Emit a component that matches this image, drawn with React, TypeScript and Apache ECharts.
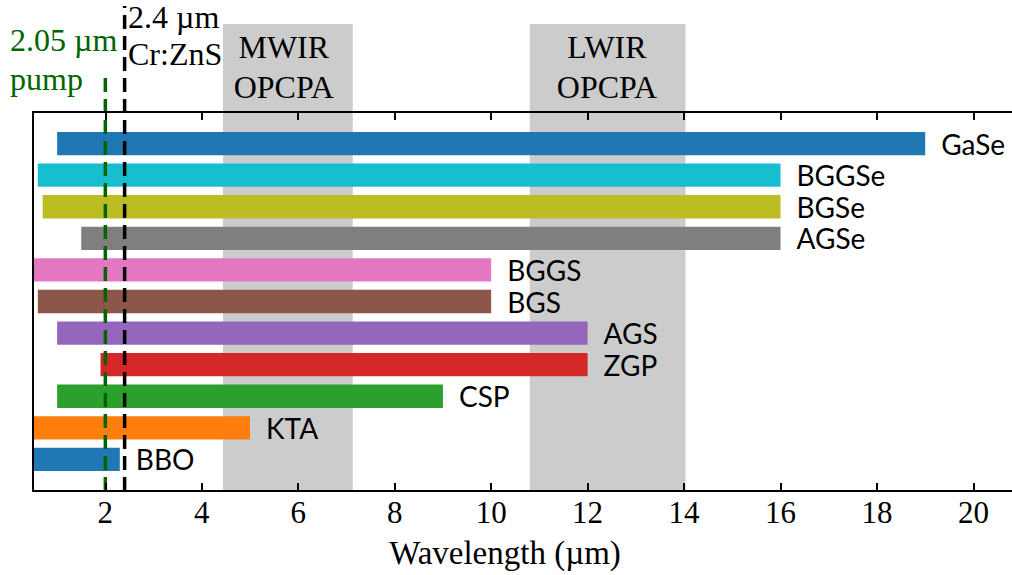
import React, { useEffect, useRef } from "react";
import * as echarts from "echarts";

// ---- data ----
const crystals = ["BBO", "KTA", "CSP", "ZGP", "AGS", "BGS", "BGGS", "AGSe", "BGSe", "BGGSe", "GaSe"];
const rangeStart = [0.5, 0.5, 1.0, 1.9, 1.0, 0.6, 0.5, 1.5, 0.7, 0.6, 1.0];
const rangeEnd = [2.3, 5.0, 9.0, 12.0, 12.0, 10.0, 10.0, 16.0, 16.0, 16.0, 19.0];
const barColors = ["#1f77b4", "#ff7f0e", "#2ca02c", "#d62728", "#9467bd", "#8c564b", "#e377c2", "#7f7f7f", "#bcbd22", "#17becf", "#1f77b4"];

const bandLines = [["MWIR", "OPCPA"], ["LWIR", "OPCPA"]];
const bandStart = [4.44, 10.8];
const bandEnd = [7.13, 14.03];
const bandLabelX = [5.7, 12.4];

const laserLines = [["2.05 µm", "pump"], ["2.4 µm", "Cr:ZnS"]];
const laserWavelength = [2.0, 2.4];
const laserColors = ["#006400", "#000000"];

const xTicks = [2, 4, 6, 8, 10, 12, 14, 16, 18, 20];

// ---- layout / style ----
const X_MIN = 0.5;
const X_MAX = 20.8;
const Y_MIN = -1;
const Y_MAX = 11;
const BAR_THICK = 0.74;
const SERIF = "'Liberation Serif', 'Times New Roman', serif";
const SANS = "Lato, 'DejaVu Sans', sans-serif";
const SHADE_TOP = 24;
const LASER_TOP = [73, 6];
const LASER_TEXT_X = [10, 128];
const LASER_TEXT_Y = [[40, 79], [16.5, 54]];

export default function App() {
  const ref = useRef<HTMLDivElement>(null);

  useEffect(() => {
    if (!ref.current) return;
    const chart = echarts.init(ref.current, undefined, { renderer: "svg" });

    const barData = crystals.map((_, i) => [rangeStart[i], rangeEnd[i], i]);
    const bandData = bandStart.map((s, i) => [s, bandEnd[i], i]);
    const laserData = laserWavelength.map((w, i) => [w, i]);

    const axisCommon = {
      type: "value" as const,
      min: X_MIN,
      max: X_MAX,
      z: 10,
      splitLine: { show: false },
      axisLine: { show: true, onZero: false, lineStyle: { color: "#000", width: 2 } },
      axisTick: { show: true, inside: true, length: 8, customValues: xTicks, lineStyle: { color: "#000", width: 2 } },
    };

    const option: any = {
      animation: false,
      backgroundColor: "#fff",
      grid: { left: 33, right: 0, top: 112, bottom: 84, containLabel: false },
      xAxis: [
        {
          ...axisCommon,
          position: "bottom",
          axisLabel: {
            show: true,
            customValues: xTicks,
            color: "#000",
            fontFamily: SERIF,
            fontSize: 31,
            margin: 6,
          },
        },
        {
          ...axisCommon,
          position: "top",
          axisLabel: { show: false },
        },
      ],
      yAxis: {
        type: "value",
        min: Y_MIN,
        max: Y_MAX,
        z: 10,
        splitLine: { show: false },
        axisTick: { show: false },
        axisLabel: { show: false },
        axisLine: { show: true, onZero: false, lineStyle: { color: "#000", width: 2 } },
      },
      graphic: [
        ...laserLines.flatMap((lines, i) =>
          lines.map((t, j) => ({
            type: "text",
            x: LASER_TEXT_X[i],
            y: LASER_TEXT_Y[i][j],
            z: 20,
            style: {
              text: t,
              fill: laserColors[i],
              font: `32px ${SERIF}`,
              lineHeight: 32,
              align: "left",
              verticalAlign: "middle",
            },
          }))
        ),
        {
          type: "text",
          x: 505,
          y: 553,
          style: {
            text: "Wavelength (µm)",
            fill: "#000",
            font: `33px ${SERIF}`,
            align: "center",
            verticalAlign: "middle",
          },
        },
      ],
      series: [
        {
          type: "custom",
          z: 1,
          clip: false,
          data: bandData,
          encode: { x: [0, 1] },
          renderItem: (params: any, api: any) => {
            const i = api.value(2);
            const p0 = api.coord([api.value(0), Y_MIN]);
            const p1 = api.coord([api.value(1), Y_MIN]);
            const pc = api.coord([bandLabelX[i], Y_MIN]);
            return {
              type: "group",
              children: [
                {
                  type: "rect",
                  shape: { x: p0[0], y: SHADE_TOP, width: p1[0] - p0[0], height: p0[1] - SHADE_TOP },
                  style: { fill: "#cccccc" },
                },
                ...bandLines[i].map((t, j) => ({
                  type: "text",
                  style: {
                    text: t,
                    x: pc[0],
                    y: 47 + j * 40,
                    fill: "#000",
                    font: `32px ${SERIF}`,
                    lineHeight: 32,
                    align: "center",
                    verticalAlign: "middle",
                  },
                })),
              ],
            };
          },
        },
        {
          type: "custom",
          z: 2,
          clip: false,
          data: barData,
          encode: { x: [0, 1], y: 2 },
          renderItem: (params: any, api: any) => {
            const i = api.value(2);
            const p0 = api.coord([api.value(0), i]);
            const p1 = api.coord([api.value(1), i]);
            const h = api.size([0, BAR_THICK])[1];
            return {
              type: "group",
              children: [
                {
                  type: "rect",
                  shape: { x: p0[0], y: p0[1] - h / 2, width: p1[0] - p0[0], height: h },
                  style: { fill: barColors[i] },
                },
                {
                  type: "text",
                  style: {
                    text: crystals[i],
                    x: p1[0] + 16,
                    y: p0[1],
                    fill: "#000",
                    font: `28px ${SANS}`,
                    lineHeight: 26,
                    align: "left",
                    verticalAlign: "middle",
                  },
                },
              ],
            };
          },
        },
        {
          type: "custom",
          z: 3,
          clip: false,
          data: laserData,
          encode: { x: 0 },
          renderItem: (params: any, api: any) => {
            const i = api.value(1);
            const p = api.coord([api.value(0), Y_MIN]);
            return {
              type: "line",
              shape: { x1: p[0], y1: p[1], x2: p[0], y2: LASER_TOP[i] },
              style: { stroke: laserColors[i], lineWidth: 3.5, lineDash: [14, 7] },
            };
          },
        },
      ],
    };

    chart.setOption(option);
    return () => chart.dispose();
  }, []);

  return (
    <div
      ref={ref}
      style={{ position: "absolute", left: 0, top: 0, width: 1012, height: 575 }}
    />
  );
}
